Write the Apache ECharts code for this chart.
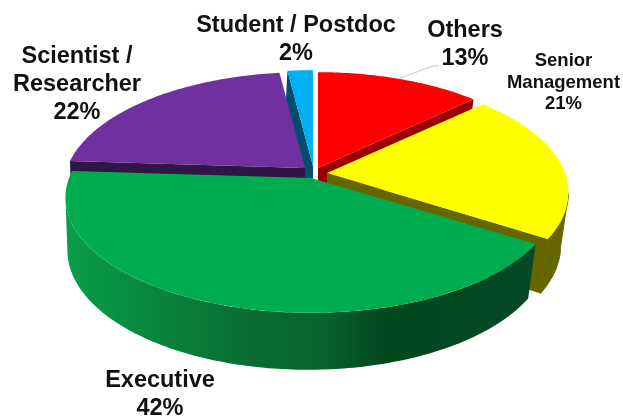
<!DOCTYPE html>
<html>
<head>
<meta charset="utf-8">
<style>html,body{margin:0;padding:0;background:#fff}#chart{width:623px;height:417px}</style>
<script src="https://cdn.jsdelivr.net/npm/echarts@6/dist/echarts.min.js"></script>
</head>
<body>
<div id="chart"></div>
<script>
var categories = ["Others", "Senior\nManagement", "Executive", "Scientist /\nResearcher", "Student / Postdoc"];
var values = [13, 21, 42, 22, 2];

// look of each slice, same order as categories
var topColors = ["#ff0000", "#ffff00", "#00ac50", "#7030a0", "#00b0f0"];
var sideColors = ["#990000", "#666600", "#02461f", "#2f1644", "#004e6b"];
var apexX = [318, 327, 311, 305, 313];
var apexY = [168, 173, 178, 168, 166];
var radiusX = [238, 238, 242, 238, 238];
var paintOrder = [4, 3, 0, 1, 2];//later paints over earlier
var cutFace = ["end", "end", "", "start", "start"];//which cut edge of the slice shows its side
var labelX = [465, 563.5, 160, 77, 296];
var labelY = [31, 61, 381, 57, 26];
var labelSize = [23.5, 18.5, 23.5, 23.5, 23.5];
var labelLine = [28, 21.5, 28, 28, 28];

// perspective of the disc
var RY = 112, PERSP = 0.169, DEPTH = 52, BOTTOM_SX = 0.98, BOTTOM_SY = 1.037, BOTTOM_DX = -3;
// only this part of the rim faces the viewer (radians, clockwise from top)
var WALL_FROM = 1.75, WALL_TO = 4.54;

var total = values.reduce(function (a, b) { return a + b; }, 0);

function project(i, a, bottom) {
  var d = 1 + PERSP * Math.cos(a);
  var x = radiusX[i] * Math.sin(a) / d, y = -RY * Math.cos(a) / d;
  if (bottom) {
    return [apexX[i] + x * BOTTOM_SX + BOTTOM_DX, apexY[i] + y * BOTTOM_SY + DEPTH];
  }
  return [apexX[i] + x, apexY[i] + y];
}

function arc(i, a0, a1, bottom) {
  var pts = [], n = Math.max(2, Math.ceil((a1 - a0) * 60));
  for (var k = 0; k <= n; k++) {
    pts.push(project(i, a0 + (a1 - a0) * k / n, bottom));
  }
  return pts;
}

function poly(points, fill, z2, stroke) {
  return {
    type: "polygon", z2: z2, shape: { points: points },
    style: { fill: fill, stroke: stroke || null, lineWidth: 1 }
  };
}

function renderItem(params, api) {
  var i = params.dataIndex;
  var before = 0;
  for (var k = 0; k < i; k++) before += values[k];
  var a0 = before / total * Math.PI * 2;
  var a1 = (before + api.value(0)) / total * Math.PI * 2;
  var z = paintOrder.indexOf(i) * 10;
  var apex = [apexX[i], apexY[i]];
  var apexB = [apexX[i], apexY[i] + DEPTH];

  var wallFill = sideColors[i], wallStroke = sideColors[i];
  if (i === 2) {
    wallStroke = null;
    wallFill = new echarts.graphic.LinearGradient(0, 0, 1, 0, [
      { offset: 0, color: "#0a9e4a" },
      { offset: 0.12, color: "#078f42" },
      { offset: 0.36, color: "#0a7034" },
      { offset: 0.55, color: "#07632d" },
      { offset: 0.68, color: "#03471f" },
      { offset: 1, color: "#054a25" }
    ]);
  }

  var children = [
    poly([apex].concat(arc(i, a0, a1)), topColors[i], z + 3)
  ];

  if (cutFace[i]) {
    var edge = cutFace[i] === "start" ? a0 : a1;
    children.push(poly([apex, project(i, edge), project(i, edge, true), apexB], sideColors[i], z));
  }

  var w0 = Math.max(a0, WALL_FROM), w1 = Math.min(a1, WALL_TO);
  if (w0 < w1) {
    children.push(poly(arc(i, w0, w1).concat(arc(i, w0, w1, true).reverse()), wallFill, z + 2, wallStroke));
  }

  // label, one text per line
  var lines = categories[i].split("\n").concat([api.value(0) + "%"]);
  lines.forEach(function (t, n) {
    children.push({
      type: "text", z2: 100,
      style: {
        text: t, x: labelX[i], y: labelY[i] + n * labelLine[i],
        align: "center", verticalAlign: "middle",
        font: "bold " + labelSize[i] + "px 'Liberation Sans', Arial, sans-serif",
        fill: "#111111"
      }
    });
  });

  if (i === 0) {
    children.push({
      type: "polyline", z2: 90,
      shape: { points: [[400, 78], [433, 66], [439, 66]] },
      style: { stroke: "#c4c4c4", lineWidth: 1, fill: null }
    });
  }
  return { type: "group", children: children };
}

var chart = echarts.init(document.getElementById("chart"));
chart.setOption({
  animation: false,
  backgroundColor: "#ffffff",
  series: [{
    type: "custom",
    coordinateSystem: "none",
    silent: true,
    renderItem: renderItem,
    data: values.map(function (v, i) { return { name: categories[i], value: [v] }; })
  }]
});
</script>
</body>
</html>
